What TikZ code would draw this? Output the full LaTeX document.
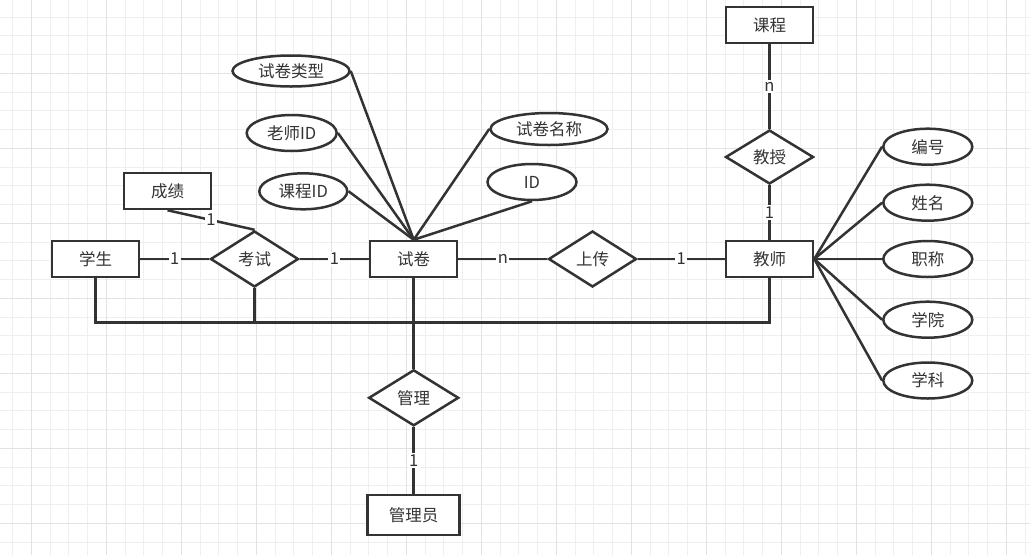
\documentclass[tikz,border=0pt]{standalone}
\usepackage{fontspec}
\setmainfont{Noto Sans CJK SC}
\usetikzlibrary{shapes.geometric}
\definecolor{ink}{HTML}{333333}
\definecolor{gridminor}{HTML}{EFEFEF}
\definecolor{gridmajor}{HTML}{E2E2E2}

\begin{document}
\begin{tikzpicture}[x=1pt,y=-1pt,
    every node/.style={font=\fontsize{16.5}{19}\selectfont,text=ink},
    entity/.style={draw=ink,line width=2.5pt,fill=white,minimum width=87pt,minimum height=36pt,inner sep=0pt},
    attr/.style={draw=ink,line width=2.5pt,ellipse,fill=white,minimum width=89pt,minimum height=36pt,inner sep=0pt},
    rel/.style={draw=ink,line width=2.5pt,diamond,fill=white,minimum width=88pt,minimum height=56pt,inner sep=0pt},
    conn/.style={draw=ink,line width=2.5pt},
    card/.style={fill=white,inner sep=1.5pt}]
  \useasboundingbox (0,0) rectangle (1030,555);
  % background grid
  \foreach \x in {12.5,31.25,...,1030} \draw[gridminor,line width=1pt] (\x,0) -- (\x,555);
  \foreach \y in {17.1,35.85,...,555} \draw[gridminor,line width=1pt] (0,\y) -- (1030,\y);
  \foreach \x in {31.25,106.25,...,1030} \draw[gridmajor,line width=1pt] (\x,0) -- (\x,555);
  \foreach \y in {73.3,148.3,...,555} \draw[gridmajor,line width=1pt] (0,\y) -- (1030,\y);

  % entities and relations
  \node[entity] (student) at (95.5,259) {学生};
  \node[entity] (score) at (167.5,191) {成绩};
  \node[rel] (exam) at (254.5,259) {考试};
  \node[entity] (paper) at (413.7,259) {试卷};
  \node[rel] (upload) at (592.5,259) {上传};
  \node[entity] (teacher) at (769.5,259) {教师};
  \node[rel,minimum height=54pt] (teach) at (769.5,157) {教授};
  \node[entity] (course) at (769.5,25) {课程};
  \node[rel,minimum width=90pt] (manage) at (413.7,397.8) {管理};
  \node[entity,minimum width=92pt,minimum height=40pt] (admin) at (413.7,515) {管理员};

  % attributes of the paper
  \node[attr,minimum width=117pt,minimum height=31pt] (ptype) at (291,71) {试卷类型};
  \node[attr,minimum width=90pt] (tid) at (291.7,133) {老师ID};
  \node[attr,minimum width=88pt] (cid) at (303.3,191.3) {课程ID};
  \node[attr,minimum width=117pt,minimum height=32pt] (pname) at (549,129) {试卷名称};
  \node[attr] (pid) at (532,182) {ID};

  % attributes of the teacher
  \node[attr] (tno) at (927.8,146.7) {编号};
  \node[attr] (tname) at (927.8,202.7) {姓名};
  \node[attr] (ttitle) at (927.8,259) {职称};
  \node[attr] (tcollege) at (927.8,319.7) {学院};
  \node[attr] (tsubject) at (927.8,380.5) {学科};

  \draw[conn] (ptype.east) -- (paper.north);
  \draw[conn] (tid.east) -- (paper.north);
  \draw[conn] (cid.east) -- (paper.north);
  \draw[conn] (pname.west) -- (paper.north);
  \draw[conn] (pid.south) -- (paper.north);
  \draw[conn] (teacher.east) -- (tno.west);
  \draw[conn] (teacher.east) -- (tname.west);
  \draw[conn] (teacher.east) -- (ttitle.west);
  \draw[conn] (teacher.east) -- (tcollege.west);
  \draw[conn] (teacher.east) -- (tsubject.west);

  % relationships
  \draw[conn] (score.south) -- node[card]{1} (exam.north);
  \draw[conn] (student.east) -- node[card]{1} (exam.west);
  \draw[conn] (exam.east) -- node[card]{1} (paper.west);
  \draw[conn] (paper.east) -- node[card]{n} (upload.west);
  \draw[conn] (upload.east) -- node[card]{1} (teacher.west);
  \draw[conn] (course.south) -- node[card]{n} (teach.north);
  \draw[conn] (teach.south) -- node[card]{1} (teacher.north);
  \draw[conn] (manage.south) -- node[card]{1} (admin.north);

  % the line along the bottom
  \coordinate (bus) at (0,322.7);
  \draw[conn] (student.south) -- (student.south |- bus) -- (teacher.south |- bus) -- (teacher.south);
  \draw[conn] (exam.south) -- (exam.south |- bus);
  \draw[conn] (paper.south) -- (manage.north);
\end{tikzpicture}
\end{document}
